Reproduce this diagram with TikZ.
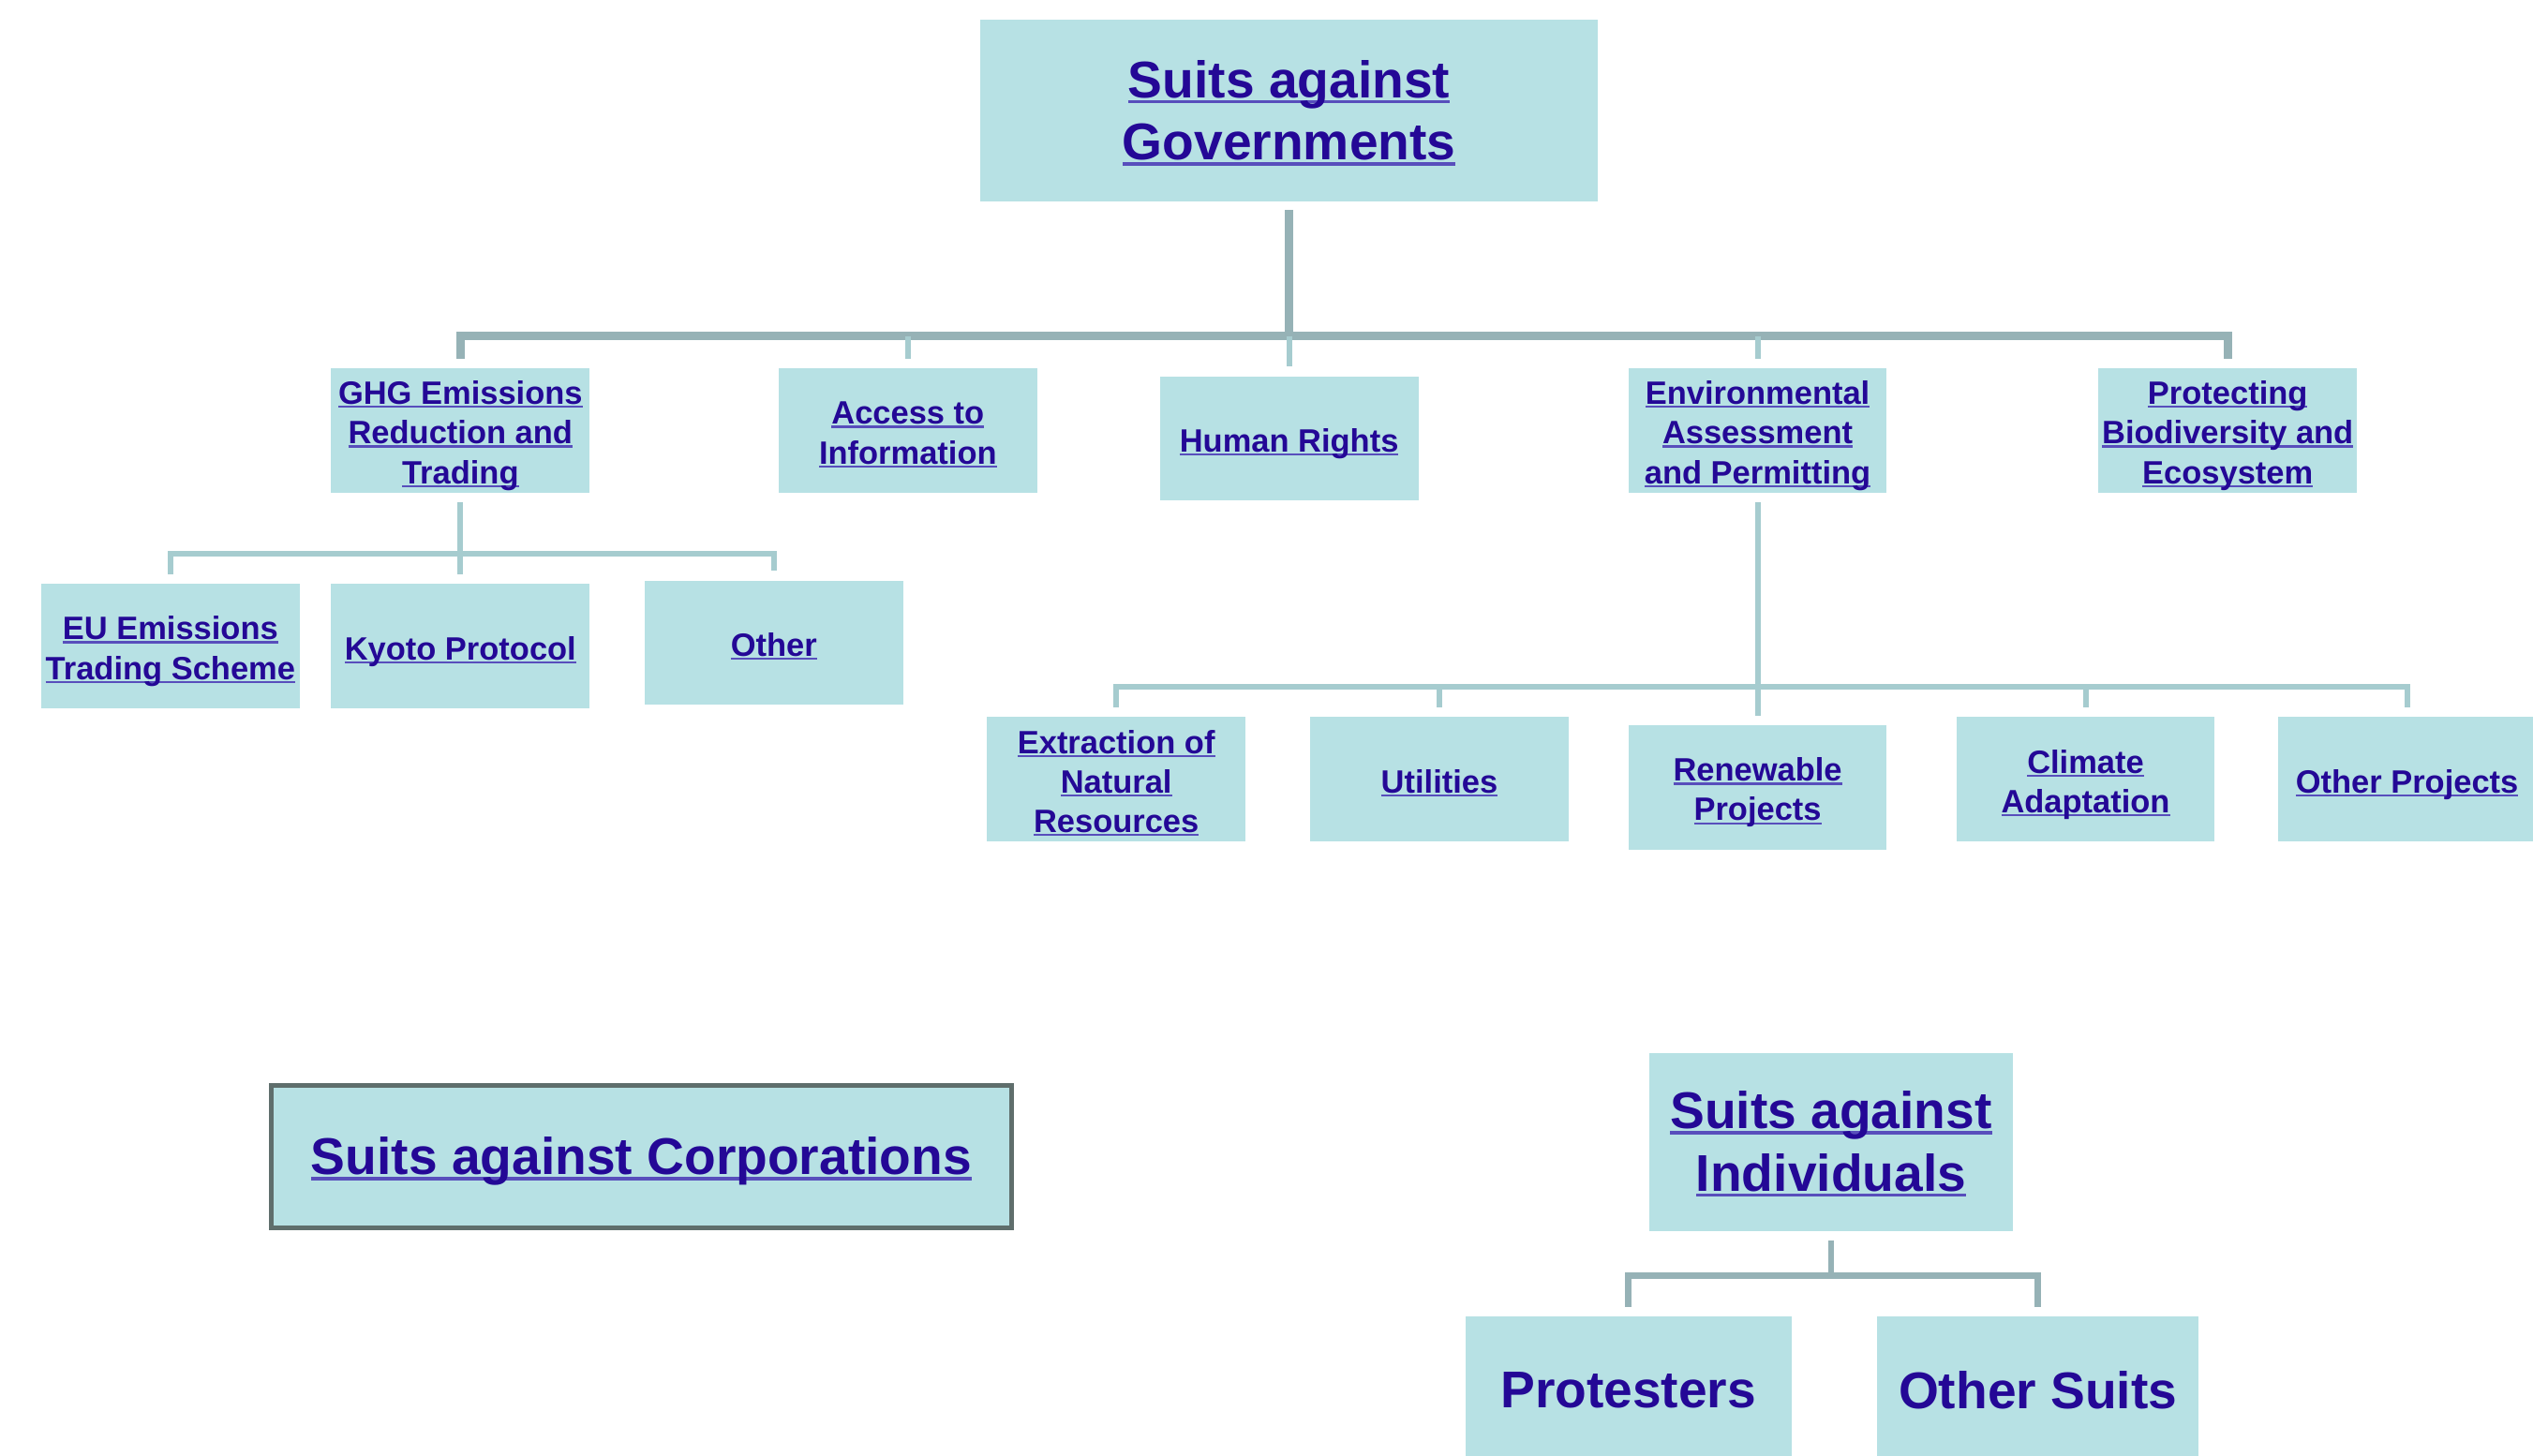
\documentclass[tikz,border=0pt]{standalone}
\usepackage{fontspec}
\setmainfont{Liberation Sans}
\usetikzlibrary{calc}
\definecolor{boxfill}{RGB}{183,225,228}
\definecolor{txt}{RGB}{36,8,150}
\definecolor{ulcol}{RGB}{88,78,188}
\definecolor{connA}{RGB}{150,178,182}
\definecolor{connB}{RGB}{166,204,207}
\definecolor{corpedge}{RGB}{95,110,108}
\newlength\ulwd
\newcommand\ulr[1]{\settowidth\ulwd{#1}\rlap{\textcolor{ulcol}{\rule[-0.11em]{\ulwd}{0.065em}}}#1}
\newcommand\tx[1]{\raisebox{-3.5pt}[\height][\depth]{\begin{tabular}{@{}c@{}}#1\end{tabular}}}
\tikzset{
  box/.style={fill=boxfill, inner sep=0pt, outer sep=0pt, text=txt},
  small/.style={box, minimum width=160pt, minimum height=77pt, font=\fontsize{20}{24.5}\selectfont\bfseries},
  big/.style={box, font=\fontsize{32}{38.5}\selectfont\bfseries},
  conn/.style={draw=connB, line width=3.5pt, line join=miter},
  trunk/.style={draw=connA, line width=5pt, line join=miter},
}
\begin{document}
\begin{tikzpicture}[x=1pt,y=-1pt]
\useasboundingbox (0,0) rectangle (1568,901);
\clip (0,0) rectangle (1568,901);
\fill[white] (0,0) rectangle (1568,901);

% top level
\node[big, minimum width=382pt, minimum height=113pt] (gov) at (798,68.5) {\tx{\ulr{Suits against}\\\ulr{Governments}}};

% second level
\node[small] (ghg) at (285,266.5) {\tx{\ulr{GHG Emissions}\\\ulr{Reduction and}\\\ulr{Trading}}};
\node[small] (acc) at (562,266.5) {\tx{\ulr{Access to}\\\ulr{Information}}};
\node[small] (hr) at (798,271.5) {\tx{\ulr{Human Rights}}};
\node[small] (env) at (1088,266.5) {\tx{\ulr{Environmental}\\\ulr{Assessment}\\\ulr{and Permitting}}};
\node[small] (bio) at (1379,266.5) {\tx{\ulr{Protecting}\\\ulr{Biodiversity and}\\\ulr{Ecosystem}}};

% GHG children
\node[small] (eu) at (105.5,400) {\tx{\ulr{EU Emissions}\\\ulr{Trading Scheme}}};
\node[small] (kyo) at (285,400) {\tx{\ulr{Kyoto Protocol}}};
\node[small] (oth) at (479,398) {\tx{\ulr{Other}}};

% Env children
\node[small] (ext) at (691,482.5) {\tx{\ulr{Extraction of}\\\ulr{Natural}\\\ulr{Resources}}};
\node[small] (uti) at (891,482.5) {\tx{\ulr{Utilities}}};
\node[small] (ren) at (1088,487.5) {\tx{\ulr{Renewable}\\\ulr{Projects}}};
\node[small] (cli) at (1291,482.5) {\tx{\ulr{Climate}\\\ulr{Adaptation}}};
\node[small] (otp) at (1490,482.5) {\tx{\ulr{Other Projects}}};

% corporations
\node[big, draw=corpedge, line width=3pt, minimum width=458pt, minimum height=88pt] (corp) at (397,716) {\tx{\ulr{Suits against Corporations}}};

% individuals
\node[big, minimum width=225pt, minimum height=110pt] (ind) at (1133.5,707) {\tx{\ulr{Suits against}\\\ulr{Individuals}}};
\node[big, minimum width=202pt, minimum height=92pt] (pro) at (1008,861) {Protesters};
\node[big, minimum width=199pt, minimum height=92pt] (ots) at (1261.5,861) {Other Suits};

% connectors: governments
\coordinate (b1) at (798,208);
\draw[trunk, shorten <=5pt] (gov.south) -- (b1);
\draw[trunk, shorten <=6pt, shorten >=6pt] (ghg.north) |- (b1) -| (bio.north);
\foreach \n in {acc,hr,env}{\draw[conn, shorten >=6pt] (\n.north |- b1) -- (\n.north);}

% connectors: GHG
\coordinate (b2) at (285,343);
\draw[conn, shorten <=6pt] (ghg.south) -- (b2);
\draw[conn, shorten <=6pt, shorten >=6pt] (eu.north) |- (b2) -| (oth.north);
\draw[conn, shorten >=6pt] (b2) -- (kyo.north);

% connectors: Env
\coordinate (b3) at (1088,425);
\draw[conn, shorten <=6pt] (env.south) -- (b3);
\draw[conn, shorten <=6pt, shorten >=6pt] (ext.north) |- (b3) -| (otp.north);
\foreach \n in {uti,ren,cli}{\draw[conn, shorten >=6pt] (\n.north |- b3) -- (\n.north);}

% connectors: individuals
\coordinate (b4) at (1133.5,790);
\draw[trunk, line width=4pt, shorten <=6pt] (ind.south) -- (b4);
\draw[trunk, line width=4pt, shorten <=6pt, shorten >=6pt] (pro.north) |- (b4) -| (ots.north);
\end{tikzpicture}
\end{document}
